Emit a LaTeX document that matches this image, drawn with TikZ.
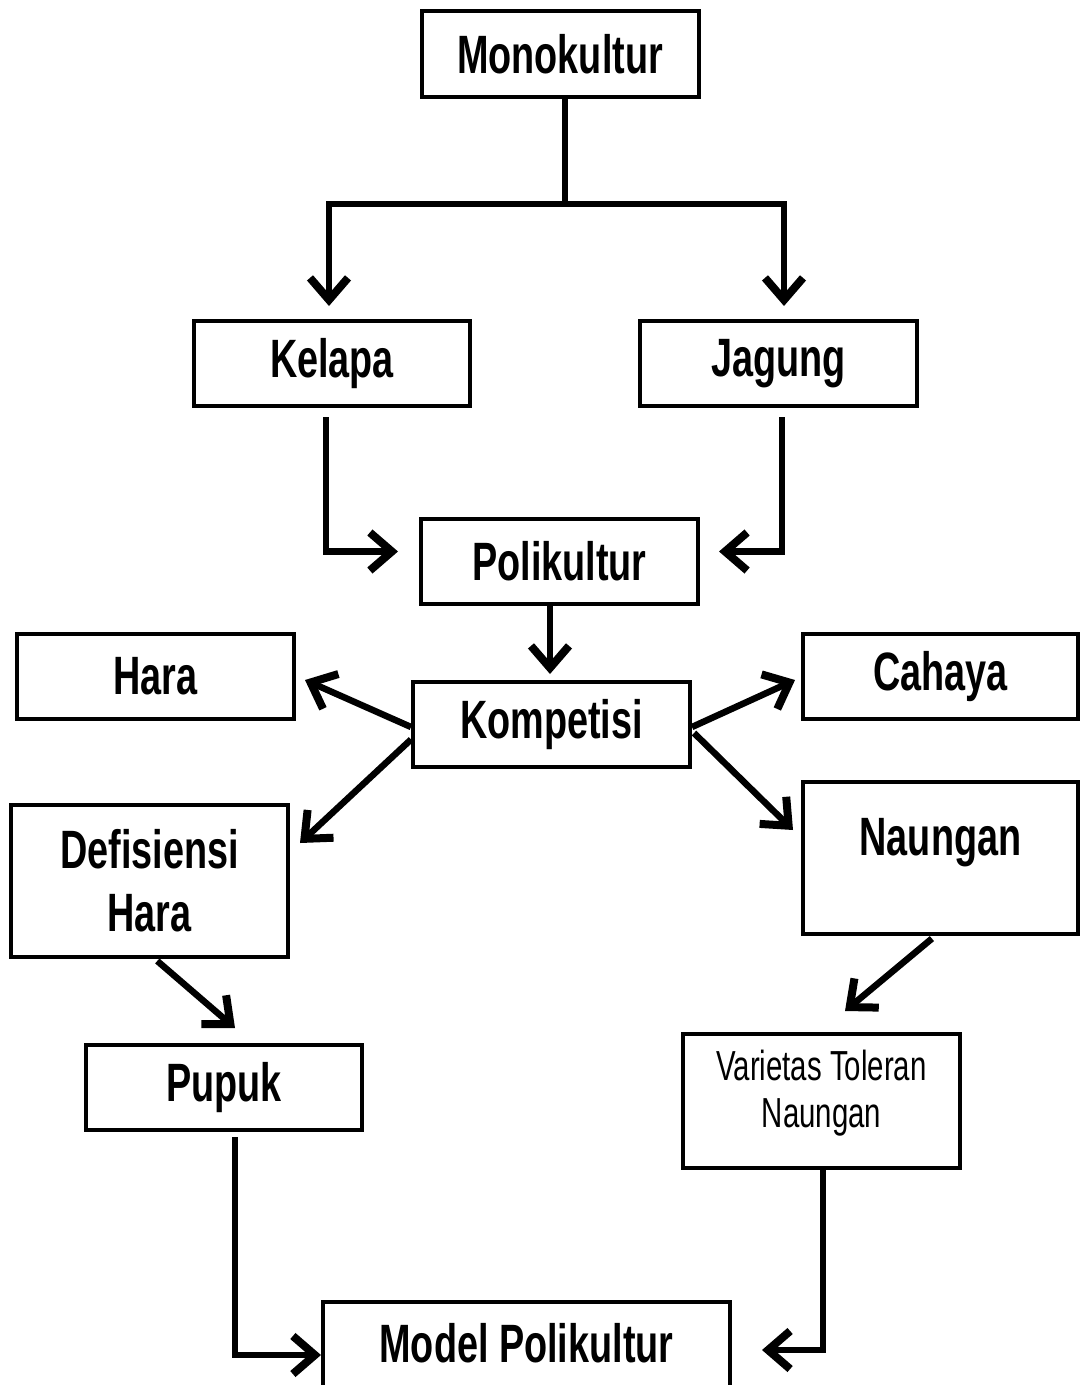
\documentclass[tikz,border=0pt]{standalone}
\usepackage{fontspec}
\setmainfont{Liberation Sans}[FakeStretch=0.7]
\usetikzlibrary{arrows.meta,calc}
\begin{document}
\begin{tikzpicture}[x=1pt,y=-1pt,
  box/.style={draw, line width=4pt, inner sep=0pt, align=center,
    font=\fontsize{54}{63}\selectfont\bfseries},
  smallbox/.style={box, font=\fontsize{42}{47}\selectfont},
  arr/.style={line width=6.5pt, -{Straight Barb[length=22pt,width=38pt,line width=8pt]}}
]
\useasboundingbox (0,0) rectangle (1080,1385);
\fill[white] (0,0) rectangle (1080,1385);

\node[box, minimum width=277, minimum height=86] (mono) at (560,54) {Monokultur};
\node[box, minimum width=276, minimum height=85] (kelapa) at (332,363.5) {Kelapa};
\node[box, minimum width=277, minimum height=85] (jagung) at (778.5,363.5) {Jagung};
\node[box, minimum width=277, minimum height=85] (poli) at (559.5,561.5) {Polikultur};
\node[box, minimum width=277, minimum height=85] (komp) at (551.5,724.5) {Kompetisi};
\node[box, minimum width=277, minimum height=85] (hara) at (155.5,676.5) {Hara};
\node[box, minimum width=275, minimum height=85] (cahaya) at (940.5,676.5) {Cahaya};
\node[box, minimum width=277, minimum height=152] (def) at (149.5,881) {Defisiensi\\Hara};
\node[box, minimum width=275, minimum height=152] (naung) at (940.5,858) {};
\node[font=\fontsize{54}{63}\selectfont\bfseries] (naungtext) at (940.5,843) {Naungan};
\node[box, minimum width=276, minimum height=85] (pupuk) at (224,1087.5) {Pupuk};
\node[smallbox, minimum width=277, minimum height=134] (var) at (821.5,1101) {};
\node[font=\fontsize{42}{47}\selectfont, align=center] (vartext) at (821.5,1093) {Varietas Toleran\\Naungan};
\node[box, minimum width=407, minimum height=88] (model) at (526.5,1346) {};
\node[font=\fontsize{54}{63}\selectfont\bfseries] (modeltext) at (526.5,1343) {Model Polikultur};

% Monokultur split
\coordinate (split) at ($(mono.south)+(5,105)$);
\draw[line width=6.5pt] ([xshift=5pt]mono.south) -- (split);
\draw[arr, shorten >=13pt] (split) -| ([xshift=-3pt]kelapa.north);
\draw[arr, shorten >=13pt] (split) -| ([xshift=5.5pt]jagung.north);

% to Polikultur
\draw[arr, shorten <=9pt, shorten >=21pt] ([xshift=-6pt]kelapa.south) |- ([yshift=10pt]poli.west);
\draw[arr, shorten <=9pt, shorten >=19pt] ([xshift=3.5pt]jagung.south) |- ([yshift=10pt]poli.east);

% Polikultur to Kompetisi
\draw[arr, shorten >=6pt] ([xshift=-1.5pt]komp.north |- poli.south) -- ([xshift=-1.5pt]komp.north);

% Kompetisi outward
\draw[arr] ([yshift=-2.5pt]komp.west) -- ([xshift=9pt,yshift=-3.5pt]hara.east);
\draw[arr] ([yshift=-15pt]komp.west) -- ([xshift=10pt,yshift=-40pt]def.north east);
\draw[arr] ([yshift=-2.5pt]komp.east) -- ([xshift=-6pt,yshift=-3.5pt]cahaya.west);
\draw[arr] ([xshift=2pt,yshift=-8.5pt]komp.east) -- ([xshift=-8pt,yshift=-50pt]naung.north west);

% lower left
\draw[arr, shorten <=3pt] ([xshift=5.5pt]def.south) -- ([xshift=11pt,yshift=15pt]pupuk.north);
\draw[arr, shorten <=5pt] ([xshift=11pt]pupuk.south) |- ([yshift=-9pt]model.west);

% lower right
\draw[arr, shorten <=4pt] ([xshift=-5.5pt]naung.south) -- ([xshift=23.5pt,yshift=21pt]var.north);
\draw[arr, shorten >=30pt] ([xshift=1.5pt]var.south) |- ([yshift=-4pt]model.east);
\end{tikzpicture}
\end{document}
